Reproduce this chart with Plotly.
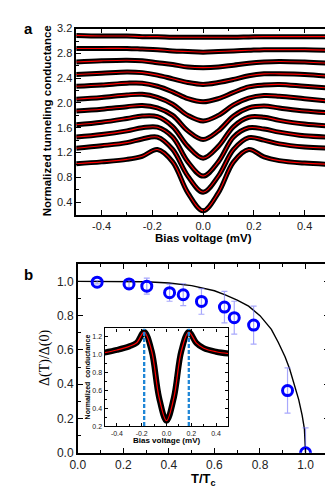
import plotly.graph_objects as go

W, H = 333, 492

# ---- panel a: tunneling spectra (offset) ----
bias = [-0.5, -0.4, -0.3, -0.24, -0.18, -0.12, -0.06, 0.0, 0.06, 0.12, 0.18, 0.24, 0.3, 0.4, 0.5]
spectra = [
    [1.02, 1.05, 1.09, 1.14, 1.25, 1.05, 0.55, 0.26, 0.55, 1.05, 1.25, 1.13, 1.07, 1.03, 1.01],
    [1.27, 1.31, 1.36, 1.42, 1.45, 1.25, 0.82, 0.56, 0.82, 1.25, 1.44, 1.40, 1.34, 1.29, 1.27],
    [1.45, 1.49, 1.55, 1.60, 1.61, 1.45, 1.05, 0.82, 1.05, 1.45, 1.60, 1.58, 1.53, 1.47, 1.45],
    [1.65, 1.69, 1.75, 1.79, 1.78, 1.62, 1.30, 1.11, 1.30, 1.62, 1.77, 1.77, 1.72, 1.66, 1.63],
    [1.87, 1.90, 1.94, 1.96, 1.92, 1.80, 1.55, 1.41, 1.55, 1.79, 1.92, 1.95, 1.92, 1.87, 1.84],
    [2.06, 2.09, 2.13, 2.14, 2.09, 1.98, 1.80, 1.71, 1.80, 1.97, 2.08, 2.12, 2.11, 2.07, 2.03],
    [2.27, 2.29, 2.32, 2.32, 2.27, 2.18, 2.07, 2.02, 2.07, 2.17, 2.26, 2.29, 2.30, 2.27, 2.24],
    [2.46, 2.48, 2.50, 2.49, 2.45, 2.39, 2.33, 2.30, 2.33, 2.38, 2.44, 2.47, 2.47, 2.46, 2.43],
    [2.66, 2.68, 2.69, 2.68, 2.65, 2.62, 2.58, 2.57, 2.58, 2.61, 2.64, 2.66, 2.67, 2.66, 2.64],
    [2.88, 2.88, 2.88, 2.87, 2.86, 2.84, 2.83, 2.82, 2.83, 2.84, 2.85, 2.86, 2.86, 2.86, 2.85],
    [3.09, 3.08, 3.08, 3.07, 3.07, 3.06, 3.06, 3.06, 3.06, 3.06, 3.065, 3.07, 3.07, 3.07, 3.07],
]

# ---- inset: lowest-temperature spectrum ----
inset_curve = [1.02, 1.05, 1.09, 1.13, 1.25, 1.04, 0.52, 0.26, 0.52, 1.04, 1.25, 1.13, 1.07, 1.03, 1.01]
gap_bias = [-0.18, 0.18]

# ---- panel b: gap vs temperature ----
t_ratio = [0.085, 0.225, 0.303, 0.403, 0.463, 0.543, 0.644, 0.687, 0.772, 0.921, 1.0]
gap_ratio = [0.995, 0.985, 0.972, 0.934, 0.922, 0.883, 0.850, 0.788, 0.745, 0.363, 0.0]
gap_err = [0.01, 0.02, 0.047, 0.05, 0.064, 0.075, 0.092, 0.096, 0.111, 0.132, 0.145]

bcs_t = [0.0, 0.1, 0.2, 0.3, 0.4, 0.5, 0.6, 0.65, 0.7, 0.75, 0.8, 0.85, 0.88, 0.91, 0.93,
         0.95, 0.97, 0.985, 0.995, 1.0]
bcs_gap = [1.0, 1.0, 1.0, 0.998, 0.99, 0.975, 0.945, 0.92, 0.89, 0.855, 0.80, 0.72, 0.645,
           0.56, 0.49, 0.40, 0.31, 0.22, 0.14, 0.0]

a_xticks = [-0.4, -0.2, 0.0, 0.2, 0.4]
a_yticks = [0.4, 0.8, 1.2, 1.6, 2.0, 2.4, 2.8, 3.2]
b_ticks = [0.0, 0.2, 0.4, 0.6, 0.8, 1.0]
in_yticks = [0.2, 0.4, 0.6, 0.8, 1.0, 1.2]

FONT = 'Liberation Sans'


def xdom(a, b):
    return [a / W, b / W]


def ydom(top, bottom):
    return [1 - bottom / H, 1 - top / H]


def _axis(domain, anchor, rng, ticks, minor_dtick, size=11, lw=1.5, tl=5, mtl=3):
    return dict(
        domain=domain, anchor=anchor, range=rng,
        tickmode='array', tickvals=ticks, ticktext=[f'{v:.1f}' for v in ticks],
        showline=True, linecolor='black', linewidth=lw, mirror='ticks',
        ticks='inside', ticklen=tl, tickwidth=1.2, tickcolor='black',
        showgrid=False, zeroline=False,
        tickfont=dict(family=FONT, size=size, color='#222'),
        minor=dict(tickmode='linear', tick0=0, dtick=minor_dtick, ticks='inside',
                   ticklen=mtl, tickwidth=1, tickcolor='black', showgrid=False),
    )


fig = go.Figure()

# panel a: black data bands, then red fits
for ys in spectra:
    fig.add_trace(go.Scatter(x=bias, y=ys, mode='lines', xaxis='x', yaxis='y',
                             line=dict(color='black', width=5, shape='spline', smoothing=1.0),
                             hoverinfo='skip', showlegend=False))
for ys in spectra:
    fig.add_trace(go.Scatter(x=bias, y=ys, mode='lines', xaxis='x', yaxis='y',
                             line=dict(color='#ff0000', width=1.1, shape='spline', smoothing=1.0),
                             hoverinfo='skip', showlegend=False))

# panel b
fig.add_trace(go.Scatter(x=bcs_t, y=bcs_gap, mode='lines', xaxis='x2', yaxis='y2',
                         line=dict(color='black', width=1.4),
                         hoverinfo='skip', showlegend=False))
fig.add_trace(go.Scatter(
    x=t_ratio, y=gap_ratio, mode='markers', xaxis='x2', yaxis='y2',
    marker=dict(symbol='circle-open', size=10, color='#0000ff', line=dict(width=3, color='#0000ff')),
    error_y=dict(type='data', array=gap_err, color='rgba(110,110,250,0.6)', thickness=1.2, width=3),
    showlegend=False,
))

# inset
fig.add_trace(go.Scatter(x=bias, y=inset_curve, mode='lines', xaxis='x3', yaxis='y3',
                         line=dict(color='black', width=6, shape='spline', smoothing=1.0),
                         hoverinfo='skip', showlegend=False))
fig.add_trace(go.Scatter(x=bias, y=inset_curve, mode='lines', xaxis='x3', yaxis='y3',
                         line=dict(color='#ff0000', width=1.2, shape='spline', smoothing=1.0),
                         hoverinfo='skip', showlegend=False))
for gb in gap_bias:
    fig.add_trace(go.Scatter(x=[gb, gb], y=[0.2, 1.29], mode='lines', xaxis='x3', yaxis='y3',
                             line=dict(color='#1f86d6', width=2.3, dash='4px,2px'),
                             hoverinfo='skip', showlegend=False))

ax_a = xdom(61.7, 321.7)
ay_a = ydom(15, 206)
ax_b = xdom(63.3, 320)
ay_b = ydom(257, 450.7)
ax_i = xdom(90.7, 217.7)
ay_i = ydom(323, 423.3)

fig.update_layout(
    width=W, height=H,
    margin=dict(l=0, r=0, t=0, b=0),
    paper_bgcolor='white', plot_bgcolor='rgba(0,0,0,0)',
    showlegend=False,
    xaxis=_axis(ax_a, 'y', [-0.5, 0.5], a_xticks, 0.1),
    yaxis=_axis(ay_a, 'x', [0.2, 3.2], a_yticks, 0.2),
    xaxis2=_axis(ax_b, 'y2', [0, 1.1], b_ticks, 0.1, size=12),
    yaxis2=_axis(ay_b, 'x2', [0, 1.1], b_ticks, 0.1, size=12),
    xaxis3=_axis(ax_i, 'y3', [-0.5, 0.5], a_xticks, 0.1, size=7, lw=1.1, tl=3, mtl=2),
    yaxis3=_axis(ay_i, 'x3', [0.2, 1.29], in_yticks, 0.1, size=7, lw=1.1, tl=3, mtl=2),
)


def label(text, x, y, size, bold=True, angle=0, family=FONT):
    fig.add_annotation(
        text=f'<b>{text}</b>' if bold else text,
        x=x / W, y=1 - y / H, xref='paper', yref='paper',
        showarrow=False, textangle=angle,
        font=dict(family=family, size=size, color='black'),
        xanchor='center', yanchor='middle',
    )


label('a', 13, 15, 15)
label('b', 13, 268, 15)
label('Bias voltage (mV)', 191.7, 230, 11.5)
label('Normalized tunneling conductance', 32, 110, 11.5, angle=-90)
label('T/T<sub>c</sub>', 191.7, 478, 13)
label('Δ(T)/Δ(0)', 29, 353, 14, bold=False, angle=-90, family='Liberation Serif')
label('Bias voltage (mV)', 154.2, 438, 8)
label('Normalized  conductance', 73, 373, 7, angle=-90)

fig.write_html('out.html')
